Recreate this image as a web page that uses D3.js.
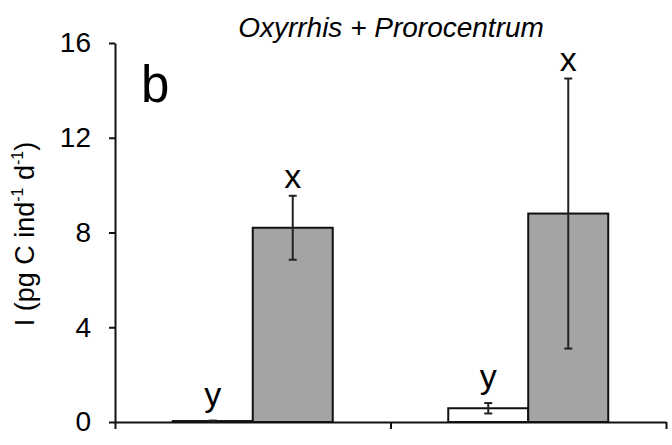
<!DOCTYPE html>
<html>
<head>
<meta charset="utf-8">
<script src="https://cdn.jsdelivr.net/npm/d3@7"></script>
<style>
  html, body { margin: 0; padding: 0; background: #fff; }
  svg { display: block; }
  text { font-family: "Liberation Sans", Arial, sans-serif; fill: #000; }
</style>
</head>
<body>
<svg id="chart" width="672" height="445"></svg>
<script>
// ---- data ----
const groups = ["Group 1", "Group 2"];
const series = ["white", "gray"];
const whiteValues = [0.04, 0.58];
const whiteErrors = [0.02, 0.22];
const grayValues = [8.2, 8.8];
const grayErrors = [1.35, 5.7];
const whiteLetters = ["y", "y"];
const grayLetters = ["x", "x"];
const yTicks = [0, 4, 8, 12, 16];
const title = "Oxyrrhis + Prorocentrum";
const panelLabel = "b";

// ---- layout ----
const svg = d3.select("#chart");
const x0 = 115, x1 = 666, yTop = 43, yBot = 422;

const y = d3.scaleLinear().domain([0, 16]).range([yBot, yTop]);
const xg = d3.scaleBand().domain(groups).range([x0, x1]).paddingInner(0).paddingOuter(0);
const xs = d3.scaleBand().domain(series).range([0, xg.bandwidth()]).paddingInner(0).paddingOuter(0.722);
const xb = d3.scaleLinear().domain([0, groups.length]).range([x0, x1]);

const rows = [];
groups.forEach((g, i) => {
  rows.push({g, s: "white", v: whiteValues[i], e: whiteErrors[i], l: whiteLetters[i]});
  rows.push({g, s: "gray", v: grayValues[i], e: grayErrors[i], l: grayLetters[i]});
});

// bars
svg.append("g").selectAll("rect").data(rows).join("rect")
  .attr("x", d => xg(d.g) + xs(d.s))
  .attr("y", d => y(d.v))
  .attr("width", xs.bandwidth())
  .attr("height", d => y(0) - y(d.v))
  .attr("fill", d => d.s === "gray" ? "#a4a4a4" : "#ffffff")
  .attr("stroke", "#111")
  .attr("stroke-width", 2);

// error bars
const eb = svg.append("g").attr("stroke", "#222").attr("stroke-width", 2);
rows.forEach(d => {
  const cx = xg(d.g) + xs(d.s) + xs.bandwidth() / 2;
  const lo = Math.max(0, d.v - d.e), hi = d.v + d.e;
  eb.append("line").attr("x1", cx).attr("x2", cx).attr("y1", y(lo)).attr("y2", y(hi));
  [lo, hi].forEach(v => eb.append("line").attr("x1", cx - 4).attr("x2", cx + 4).attr("y1", y(v)).attr("y2", y(v)));
});

// significance letters
svg.append("g").selectAll("text").data(rows).join("text")
  .attr("x", d => xg(d.g) + xs(d.s) + xs.bandwidth() / 2)
  .attr("y", d => y(d.v + d.e) - (d.l === "y" ? 15 : 8))
  .attr("text-anchor", "middle")
  .attr("font-size", 34)
  .text(d => d.l);

// y axis
const yAxis = svg.append("g").attr("transform", `translate(${x0},0)`)
  .call(d3.axisLeft(y).tickValues(yTicks).tickSize(6).tickPadding(18).tickSizeOuter(0));
yAxis.select(".domain").attr("stroke", "#111").attr("stroke-width", 2);
yAxis.selectAll(".tick line").attr("stroke", "#111").attr("stroke-width", 2);
yAxis.selectAll(".tick text").attr("font-size", 28).attr("font-family", "Liberation Sans, Arial, sans-serif").attr("fill", "#000");

// x axis (ticks at group boundaries)
const xAxis = svg.append("g").attr("transform", `translate(0,${yBot})`)
  .call(d3.axisBottom(xb).tickValues(d3.range(groups.length + 1)).tickSize(7).tickFormat("").tickSizeOuter(0));
xAxis.select(".domain").attr("stroke", "#111").attr("stroke-width", 2);
xAxis.selectAll(".tick line").attr("stroke", "#111").attr("stroke-width", 2);

// title
svg.append("text").attr("x", 391).attr("y", 37).attr("text-anchor", "middle")
  .attr("font-size", 28).attr("font-style", "italic").text(title);

// panel label
svg.append("text").attr("x", 141).attr("y", 102).attr("font-size", 51).text(panelLabel);

// y axis title
const yt = svg.append("text").attr("transform", "translate(34,234) rotate(-90)")
  .attr("text-anchor", "middle").attr("font-size", 27);
yt.append("tspan").text("I (pg C ind");
yt.append("tspan").attr("font-size", 16).attr("dy", -11).text("-1");
yt.append("tspan").attr("dy", 11).text(" d");
yt.append("tspan").attr("font-size", 16).attr("dy", -11).text("-1");
yt.append("tspan").attr("dy", 11).text(")");
</script>
</body>
</html>
